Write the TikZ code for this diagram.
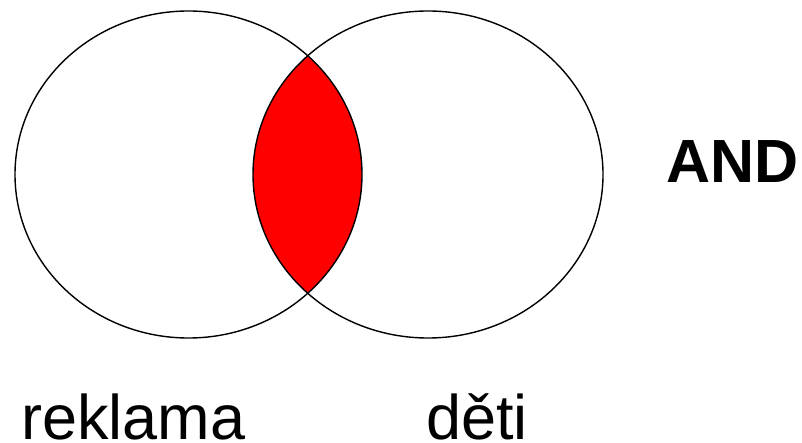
\documentclass[tikz,border=0pt]{standalone}
\usepackage{fontspec}
\setmainfont{Liberation Sans}
\tikzset{
    setline/.style={draw=black, line width=1.4pt},
    setlabel/.style={inner sep=0pt, anchor=base west, font=\fontsize{63}{70}\selectfont},
    oplabel/.style={inner sep=0pt, anchor=base west, font=\fontsize{61}{68}\selectfont\bfseries}
}
\begin{document}
\begin{tikzpicture}[x=1pt, y=-1pt]
        \useasboundingbox (0,0) rectangle (802,443);

        % Intersection (filled)
        \begin{scope}
            \clip (188.5,174.5) ellipse [x radius=173.5pt, y radius=163.5pt];
            \fill[red] (428,174.5) ellipse [x radius=175pt, y radius=163.5pt];
        \end{scope}

        % Left set and right set
        \draw[setline] (188.5,174.5) ellipse [x radius=173.5pt, y radius=163.5pt];
        \draw[setline] (428,174.5) ellipse [x radius=175pt, y radius=163.5pt];

        % Labels for the sets
        \node[setlabel] (reklama) at (21,439) {reklama};
        \node[setlabel] (deti) at (426,439) {děti};

        % Operator
        \node[oplabel] (and) at (666,183) {AND};
    \end{tikzpicture}
\end{document}
